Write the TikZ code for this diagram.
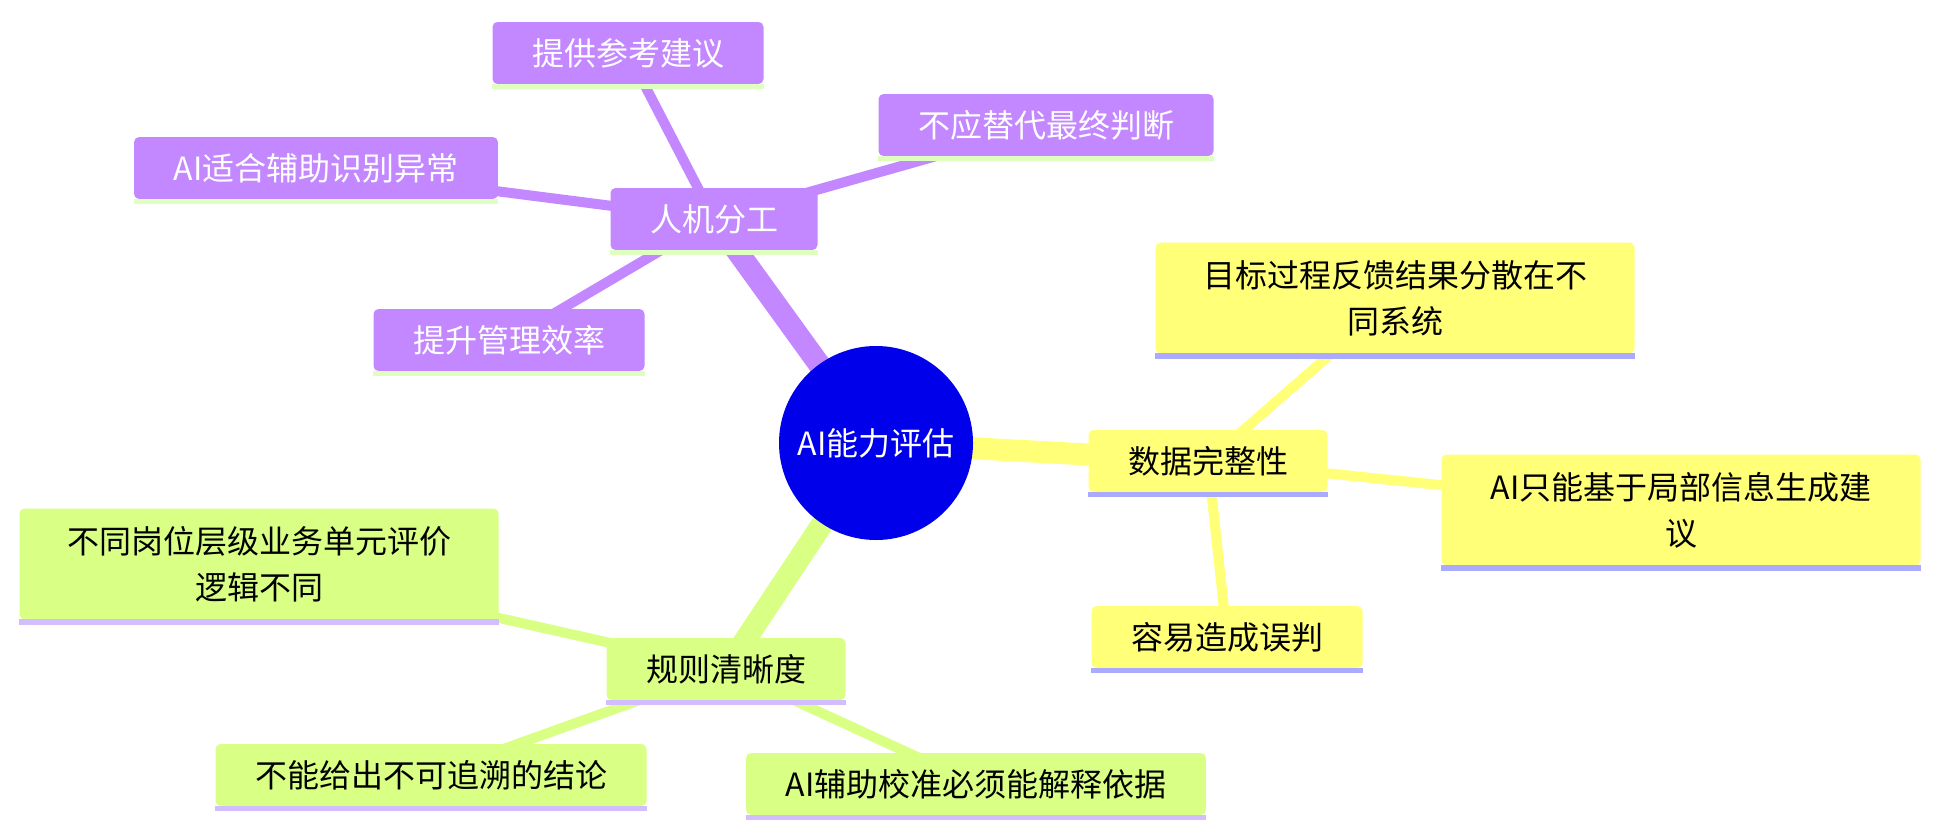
\documentclass[tikz,border=0pt]{standalone}
\usepackage{fontspec}
\newfontfamily\cjk{Noto Sans CJK SC}
\usetikzlibrary{backgrounds}
\definecolor{cP}{HTML}{C387FF}
\definecolor{cY}{HTML}{FFFF78}
\definecolor{cG}{HTML}{D9FF85}
\definecolor{uP}{HTML}{DEFFC0}
\definecolor{uY}{HTML}{AAAAFF}
\definecolor{uG}{HTML}{D2BEFF}
\definecolor{cRoot}{HTML}{0000EB}
\tikzset{
  box/.style={rounded corners=5pt, inner xsep=39.5pt, inner ysep=0pt, minimum height=62pt,
    font=\cjk\fontsize{32}{46}\selectfont},
  pbox/.style={box, fill=cP, text=white},
  ybox/.style={box, fill=cY, text=black},
  gbox/.style={box, fill=cG, text=black},
  wide/.style={minimum width=479pt, minimum height=111pt, align=center},
  rootnode/.style={circle, fill=cRoot, text=white, minimum size=194pt, inner sep=0pt,
    font=\cjk\fontsize{32}{46}\selectfont},
  redge/.style={line width=22pt},
  ledge/.style={line width=10pt},
}
\begin{document}
\begin{tikzpicture}[x=1pt,y=-1pt]
\useasboundingbox (0,0) rectangle (1940,836);
% root
\node[rootnode] (root) at (876,443) {AI能力评估};
% purple branch
\node[pbox] (hm) at (714,219) {人机分工};
\node[pbox] (p1) at (628,53) {提供参考建议};
\node[pbox] (p2) at (1046,125) {不应替代最终判断};
\node[pbox] (p3) at (316,168) {AI适合辅助识别异常};
\node[pbox] (p4) at (509,340) {提升管理效率};
% yellow branch
\node[ybox] (sj) at (1208,461) {数据完整性};
\node[ybox, wide] (y1) at (1395,298) {目标过程反馈结果分散在不\\同系统};
\node[ybox, wide] (y2) at (1681,510) {AI只能基于局部信息生成建\\议};
\node[ybox] (y3) at (1227,637) {容易造成误判};
% green branch
\node[gbox] (gz) at (726,669) {规则清晰度};
\node[gbox, wide] (g1) at (259,564) {不同岗位层级业务单元评价\\逻辑不同};
\node[gbox] (g2) at (431,775) {不能给出不可追溯的结论};
\node[gbox] (g3) at (976,784) {AI辅助校准必须能解释依据};
% underlines
\foreach \n/\c in {hm/uP,p1/uP,p2/uP,p3/uP,p4/uP,sj/uY,y1/uY,y2/uY,y3/uY,gz/uG,g1/uG,g2/uG,g3/uG}
  \fill[\c] ([yshift=0.5pt]\n.south west) rectangle ([yshift=-5pt]\n.south east);
% edges
\begin{pgfonlayer}{background}
\draw[redge, cP] (root.center) -- (hm.center);
\draw[redge, cY] (root.center) -- (sj.center);
\draw[redge, cG] (root.center) -- (gz.center);
\draw[ledge, cP] (hm.center) -- (p1.center);
\draw[ledge, cP] (hm.center) -- (p2.center);
\draw[ledge, cP] (hm.center) -- (p3.center);
\draw[ledge, cP] (hm.center) -- (p4.center);
\draw[ledge, cY] (sj.center) -- (y1.center);
\draw[ledge, cY] (sj.center) -- (y2.center);
\draw[ledge, cY] (sj.center) -- (y3.center);
\draw[ledge, cG] (gz.center) -- (g1.center);
\draw[ledge, cG] (gz.center) -- (g2.center);
\draw[ledge, cG] (gz.center) -- (g3.center);
\end{pgfonlayer}
\end{tikzpicture}
\end{document}
